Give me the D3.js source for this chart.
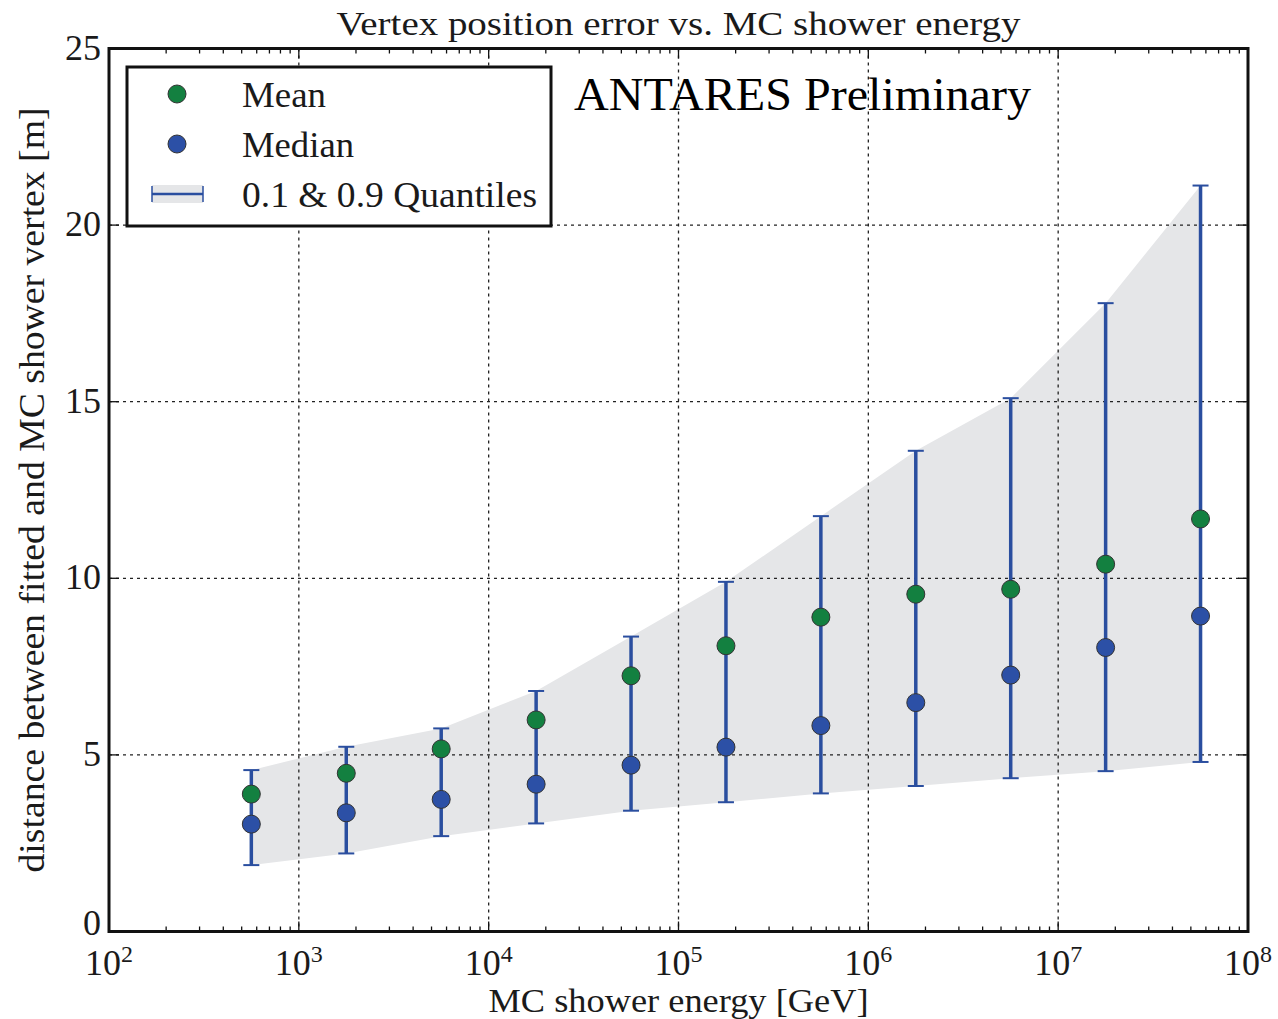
<!DOCTYPE html>
<html>
<head>
<meta charset="utf-8">
<script src="https://cdn.jsdelivr.net/npm/d3@7"></script>
<style>
  html, body { margin: 0; padding: 0; background: #fff; }
  svg { display: block; }
</style>
</head>
<body>
<script>
// Energy bin centres [GeV] (half-decade bins)
const energies = [562, 1778, 5623, 17783, 56234, 177828, 562341, 1778279, 5623413, 17782794, 56234133];
// Vertex position error [m]
const meanErr   = [3.89, 4.48, 5.17, 5.99, 7.24, 8.09, 8.90, 9.55, 9.69, 10.40, 11.68];
const medianErr = [3.04, 3.36, 3.74, 4.17, 4.71, 5.22, 5.83, 6.48, 7.26, 8.04, 8.93];
const q90       = [4.57, 5.23, 5.75, 6.81, 8.35, 9.90, 11.76, 13.61, 15.10, 17.79, 21.12];
const q10       = [1.88, 2.21, 2.70, 3.06, 3.42, 3.66, 3.91, 4.12, 4.34, 4.54, 4.80];
const yTicks = [0, 5, 10, 15, 20, 25];
const xDecades = [2, 3, 4, 5, 6, 7, 8];
const legendLabels = ["Mean", "Median", "0.1 & 0.9 Quantiles"];

const W = 1278, H = 1019;
const L = 109, R = 1248, T = 48.5, B = 931.5;
const FONT = "'Liberation Serif', 'Times New Roman', Times, serif";

const colMean = "#138040", colMedian = "#2c50a6", colBar = "#2a4e9f", colBand = "#e5e6e8";

const svg = d3.select("body").append("svg").attr("width", W).attr("height", H)
  .attr("font-family", FONT);

const x = d3.scaleLog().domain([1e2, 1e8]).range([L, R]);
const y = d3.scaleLinear().domain([0, 25]).range([B, T]);

const rows = energies.map((e, i) => ({ e, mean: meanErr[i], med: medianErr[i], hi: q90[i], lo: q10[i] }));

// quantile band
const area = d3.area().x(d => x(d.e)).y0(d => y(d.lo)).y1(d => y(d.hi));
svg.append("path").datum(rows).attr("d", area).attr("fill", colBand);

// grid at major ticks
const grid = svg.append("g").attr("stroke", "#222").attr("stroke-width", 1.3).attr("stroke-dasharray", "3,4");
xDecades.slice(1, -1).forEach(k => {
  grid.append("line").attr("x1", x(10 ** k)).attr("x2", x(10 ** k)).attr("y1", T).attr("y2", B);
});
yTicks.slice(1, -1).forEach(v => {
  grid.append("line").attr("x1", L).attr("x2", R).attr("y1", y(v)).attr("y2", y(v));
});

// error bars
const bars = svg.append("g").attr("stroke", colBar);
rows.forEach(d => {
  const cx = x(d.e);
  bars.append("line").attr("x1", cx).attr("x2", cx).attr("y1", y(d.lo)).attr("y2", y(d.hi)).attr("stroke-width", 3.5);
  [d.lo, d.hi].forEach(v => {
    bars.append("line").attr("x1", cx - 8).attr("x2", cx + 8).attr("y1", y(v)).attr("y2", y(v)).attr("stroke-width", 2);
  });
});

// markers
const pts = svg.append("g");
pts.selectAll(".mean").data(rows).join("circle")
  .attr("cx", d => x(d.e)).attr("cy", d => y(d.mean)).attr("r", 9)
  .attr("fill", colMean).attr("stroke", "#333").attr("stroke-width", 1);
pts.selectAll(".med").data(rows).join("circle")
  .attr("cx", d => x(d.e)).attr("cy", d => y(d.med)).attr("r", 9)
  .attr("fill", colMedian).attr("stroke", "#333").attr("stroke-width", 1);

// ticks (inward, on all four sides)
const ticks = svg.append("g").attr("stroke", "#111").attr("stroke-width", 1.3);
yTicks.forEach(v => {
  ticks.append("line").attr("x1", L).attr("x2", L + 10).attr("y1", y(v)).attr("y2", y(v));
  ticks.append("line").attr("x1", R).attr("x2", R - 10).attr("y1", y(v)).attr("y2", y(v));
});
xDecades.forEach((k, i) => {
  const px = x(10 ** k);
  ticks.append("line").attr("x1", px).attr("x2", px).attr("y1", B).attr("y2", B - 10);
  ticks.append("line").attr("x1", px).attr("x2", px).attr("y1", T).attr("y2", T + 10);
  if (i < xDecades.length - 1) {
    for (let m = 2; m <= 9; m++) {
      const mx = x(m * 10 ** k);
      ticks.append("line").attr("x1", mx).attr("x2", mx).attr("y1", B).attr("y2", B - 5);
      ticks.append("line").attr("x1", mx).attr("x2", mx).attr("y1", T).attr("y2", T + 5);
    }
  }
});

// frame
svg.append("rect").attr("x", L).attr("y", T).attr("width", R - L).attr("height", B - T)
  .attr("fill", "none").attr("stroke", "#111").attr("stroke-width", 3);

const txt = "#1a1a1a";

// y tick labels
yTicks.forEach(v => {
  svg.append("text").attr("x", L - 8).attr("y", y(v) + (v === 0 ? 3 : 11)).attr("text-anchor", "end")
    .attr("font-size", 36).attr("fill", txt).text(v);
});

// x tick labels 10^k
xDecades.forEach(k => {
  const t = svg.append("text").attr("x", x(10 ** k)).attr("y", 975).attr("text-anchor", "middle")
    .attr("font-size", 36).attr("fill", txt);
  t.append("tspan").text("10");
  t.append("tspan").attr("font-size", 24).attr("dy", -13).text(k);
});

// axis labels and title
svg.append("text").attr("x", (L + R) / 2).attr("y", 1012).attr("text-anchor", "middle")
  .attr("font-size", 33).attr("fill", txt).attr("textLength", 380).attr("lengthAdjust", "spacingAndGlyphs")
  .text("MC shower energy [GeV]");
svg.append("text").attr("transform", `translate(44,${(T + B) / 2}) rotate(-90)`).attr("text-anchor", "middle")
  .attr("font-size", 35).attr("fill", txt).attr("textLength", 765).attr("lengthAdjust", "spacingAndGlyphs")
  .text("distance between fitted and MC shower vertex [m]");
svg.append("text").attr("x", (L + R) / 2).attr("y", 35).attr("text-anchor", "middle")
  .attr("font-size", 33).attr("fill", txt).attr("textLength", 684).attr("lengthAdjust", "spacingAndGlyphs")
  .text("Vertex position error vs. MC shower energy");

// annotation
svg.append("text").attr("x", 574).attr("y", 110).attr("font-size", 47).attr("fill", "#000")
  .attr("textLength", 457).attr("lengthAdjust", "spacingAndGlyphs")
  .text("ANTARES Preliminary");

// legend
const lg = svg.append("g");
lg.append("rect").attr("x", 127).attr("y", 67).attr("width", 424).attr("height", 159)
  .attr("fill", "#fff").attr("stroke", "#111").attr("stroke-width", 3);
lg.append("circle").attr("cx", 177).attr("cy", 94).attr("r", 9).attr("fill", colMean).attr("stroke", "#333");
lg.append("circle").attr("cx", 177).attr("cy", 144).attr("r", 9).attr("fill", colMedian).attr("stroke", "#333");
lg.append("rect").attr("x", 152).attr("y", 185).attr("width", 51).attr("height", 18).attr("fill", colBand);
lg.append("line").attr("x1", 152).attr("x2", 203).attr("y1", 194).attr("y2", 194).attr("stroke", colBar).attr("stroke-width", 2.5);
[152, 203].forEach(px => lg.append("line").attr("x1", px).attr("x2", px).attr("y1", 186).attr("y2", 202)
  .attr("stroke", colBar).attr("stroke-width", 1.5));
const legW = [84, 112, 295];
legendLabels.forEach((s, i) => {
  lg.append("text").attr("x", 242).attr("y", 107 + i * 50).attr("font-size", 35).attr("fill", txt)
    .attr("textLength", legW[i]).attr("lengthAdjust", "spacingAndGlyphs").text(s);
});
</script>
</body>
</html>
